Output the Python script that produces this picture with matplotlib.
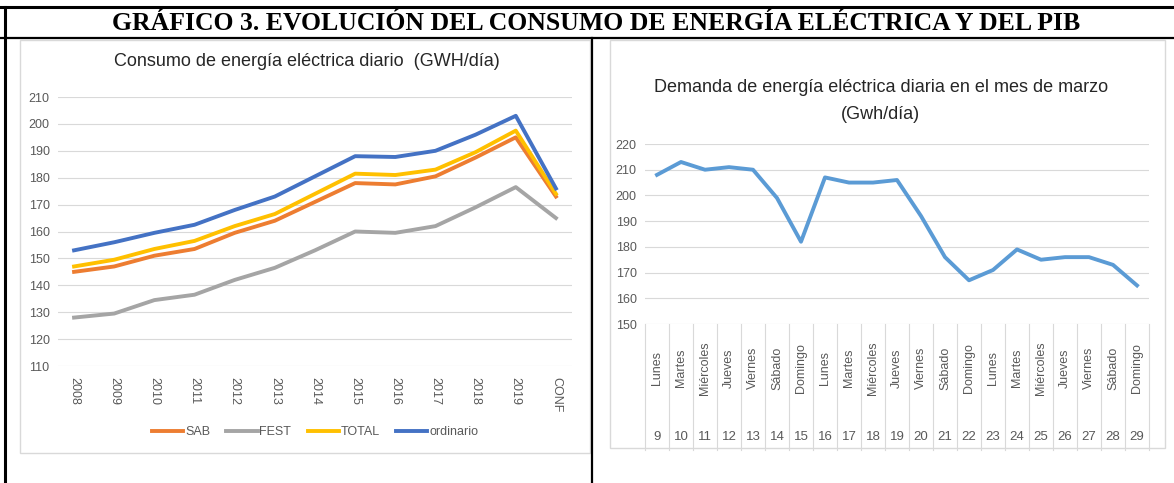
import matplotlib.pyplot as plt
from matplotlib.patches import Rectangle
from matplotlib.lines import Line2D
from matplotlib.transforms import blended_transform_factory

plt.rcParams['font.family'] = ['Liberation Sans Narrow', 'Liberation Sans', 'DejaVu Sans']

# left chart: daily consumption by year
years = ['2008', '2009', '2010', '2011', '2012', '2013', '2014', '2015',
         '2016', '2017', '2018', '2019', 'CONF']
sab = [145, 147, 151, 153.5, 159.5, 164, 171, 178, 177.5, 180.5, 187.5, 195, 173]
fest = [128, 129.5, 134.5, 136.5, 142, 146.5, 153, 160, 159.5, 162, 169, 176.5, 165]
total = [147, 149.5, 153.5, 156.5, 162, 166.5, 174, 181.5, 181, 183, 189.5, 197.5, 174]
ordinario = [153, 156, 159.5, 162.5, 168, 173, 180.5, 188, 187.7, 190, 196, 203, 176]

# right chart: daily demand in March
dias = ['Lunes', 'Martes', 'Miércoles', 'Jueves', 'Viernes', 'Sábado', 'Domingo'] * 3
fechas = list(range(9, 30))
demanda = [208, 213, 210, 211, 210, 199, 182, 207, 205, 205, 206, 192, 176,
           167, 171, 179, 175, 176, 176, 173, 165]

W, H = 1174, 483
fig = plt.figure(figsize=(W / 100, H / 100), dpi=100)


def fx(px):
    return px / W


def fy(py):
    return 1 - py / H


grid_c = '#D9D9D9'
txt_c = '#595959'
title_c = '#262626'

# page frame lines
for (x0, y0, x1, y1, lw) in [(0, 7, W, 7, 2.2), (0, 38, W, 38, 1.6),
                             (5, 7, 5, H, 2.2), (592, 38, 592, H, 1.6)]:
    fig.add_artist(Line2D([fx(x0), fx(x1)], [fy(y0), fy(y1)], color='black', lw=lw))

fig.text(fx(596), fy(23), 'GRÁFICO 3. EVOLUCIÓN DEL CONSUMO DE ENERGÍA ELÉCTRICA Y DEL PIB',
         family=['Liberation Serif', 'DejaVu Serif'], weight='bold', fontsize=18.5,
         ha='center', va='center')

# chart boxes
fig.add_artist(Rectangle((fx(20), fy(453)), fx(570), 413 / H, fill=False,
                         edgecolor='#D9D9D9', lw=1))
fig.add_artist(Rectangle((fx(610), fy(448)), fx(555), 408 / H, fill=False,
                         edgecolor='#D9D9D9', lw=1))

# ---- left chart
ax1 = fig.add_axes([fx(58), fy(366), fx(514), (366 - 97) / H])
x = range(len(years))
ax1.plot(x, sab, color='#ED7D31', lw=2.8, label='SAB')
ax1.plot(x, fest, color='#A5A5A5', lw=2.8, label='FEST')
ax1.plot(x, total, color='#FFC000', lw=2.8, label='TOTAL')
ax1.plot(x, ordinario, color='#4472C4', lw=2.8, label='ordinario')
ax1.set_xlim(-0.4, len(years) - 0.6)
ax1.set_ylim(110, 210)
ax1.set_yticks(range(110, 211, 10))
ax1.set_xticks(list(x))
ax1.set_xticklabels(years, rotation=-90)
ax1.grid(axis='y', color=grid_c, lw=0.8)
ax1.set_axisbelow(True)
for s in ax1.spines.values():
    s.set_visible(False)
ax1.tick_params(length=0, labelsize=9, colors=txt_c, pad=8)
ax1.tick_params(axis='y', pad=6)
ax1.set_title('Consumo de energía eléctrica diario  (GWH/día)', fontsize=13,
              color=title_c, pad=22, x=0.484)
ax1.legend(loc='center', bbox_to_anchor=(0.5, (366 - 432) / (366 - 97)), ncol=4,
           frameon=False, fontsize=9, handlelength=2.5, handletextpad=0.15,
           columnspacing=1.3, labelcolor=txt_c)

# ---- right chart
ax2 = fig.add_axes([fx(645), fy(324), fx(504), (324 - 144) / H])
x2 = range(len(demanda))
ax2.plot(x2, demanda, color='#5B9BD5', lw=2.8)
ax2.set_xlim(-0.5, len(demanda) - 0.5)
ax2.set_ylim(150, 220)
ax2.set_yticks(range(150, 221, 10))
ax2.set_xticks([])
ax2.grid(axis='y', color=grid_c, lw=0.8)
ax2.set_axisbelow(True)
for s in ax2.spines.values():
    s.set_visible(False)
ax2.tick_params(length=0, labelsize=9, colors=txt_c, pad=6)
ax2.set_title('Demanda de energía eléctrica diaria en el mes de marzo\n(Gwh/día)',
              fontsize=13, color=title_c, pad=18, linespacing=1.8, x=0.468)
tr = blended_transform_factory(ax2.transData, ax2.transAxes)
for i, (d, n) in enumerate(zip(dias, fechas)):
    ax2.text(i, -0.245, d, rotation=90, ha='center', va='center', fontsize=9,
             color=txt_c, transform=tr)
    ax2.text(i, -0.63, str(n), ha='center', va='center', fontsize=9.5,
             color=txt_c, transform=tr)
for i in range(len(demanda) + 1):
    ax2.plot([i - 0.5, i - 0.5], [0, -0.7], color=grid_c, lw=0.8,
             transform=tr, clip_on=False)

fig.savefig('out.png', dpi=100)
